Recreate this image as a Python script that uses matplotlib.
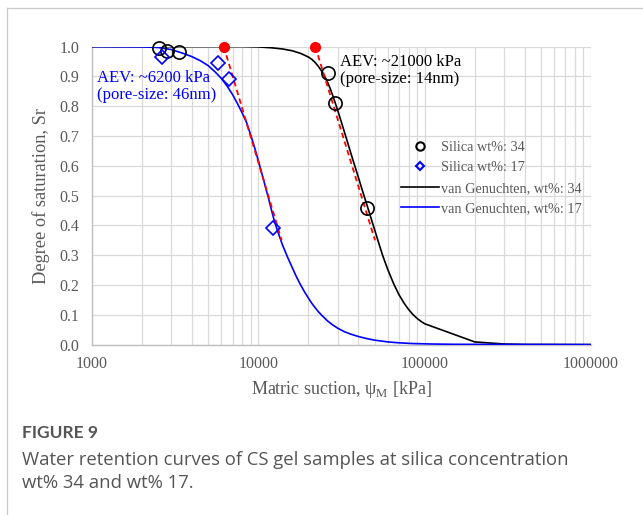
import matplotlib
matplotlib.use("Agg")
import matplotlib.pyplot as plt
from matplotlib.lines import Line2D
from matplotlib.ticker import FixedLocator, LogLocator, NullFormatter
import numpy as np

# measured points
psi_34 = [2530, 2820, 3330, 26300, 28900, 45000]
sr_34 = [0.994, 0.986, 0.983, 0.911, 0.811, 0.458]
psi_17 = [2640, 5720, 6660, 12250]
sr_17 = [0.964, 0.944, 0.890, 0.392]

# van Genuchten fits
psi_vg34 = [1000, 8000, 10000, 12000, 14000, 16000, 18000, 20000, 21000,
            22000, 23000, 24000, 25000, 26000, 27000, 28000, 29000, 30000,
            32000, 34000, 36000, 38000, 40000, 42500, 45000, 47500, 50000,
            53000, 56000, 60000, 65000, 70000, 75000, 80000, 85000, 90000,
            95000, 100000, 200000, 300000, 400000, 1000000]
sr_vg34 = [1.0, 1.0, 0.999, 0.996, 0.992, 0.986, 0.977, 0.965, 0.957,
           0.946, 0.933, 0.918, 0.901, 0.882, 0.860, 0.836, 0.811, 0.786,
           0.736, 0.688, 0.642, 0.600, 0.560, 0.512, 0.468, 0.426, 0.386,
           0.340, 0.298, 0.252, 0.205, 0.168, 0.140, 0.118, 0.101, 0.088,
           0.078, 0.070, 0.009, 0.002, 0.0005, 0.0]
psi_vg17 = [1000, 2000, 2500, 3000, 3500, 4000, 4500, 5000, 5500, 6000,
            6500, 7000, 7500, 8000, 8500, 9000, 9500, 10000, 10500, 11000,
            11500, 12000, 12500, 13000, 14000, 15000, 16000, 17000, 18000,
            19000, 20000, 21000, 22000, 23000, 24000, 26000, 28000, 30000,
            33000, 36000, 40000, 45000, 50000, 60000, 70000, 85000, 110000,
            150000, 1000000]
sr_vg17 = [1.0, 0.999, 0.997, 0.990, 0.978, 0.966, 0.952, 0.936, 0.915,
           0.893, 0.867, 0.839, 0.808, 0.777, 0.745, 0.703, 0.661, 0.617,
           0.574, 0.532, 0.492, 0.451, 0.414, 0.384, 0.333, 0.293, 0.258,
           0.226, 0.199, 0.176, 0.156, 0.138, 0.123, 0.110, 0.099, 0.080,
           0.066, 0.055, 0.043, 0.035, 0.027, 0.020, 0.015, 0.009, 0.006,
           0.0035, 0.002, 0.001, 0.0]

# AEV tangent lines
aev_psi_17 = [6200, 13800]
aev_sr_17 = [1.0, 0.35]
aev_psi_34 = [22000, 50300]
aev_sr_34 = [1.0, 0.35]

xticks = [1000, 10000, 100000, 1000000]
xtick_labels = ["1000", "10000", "100000", "1000000"]
yticks = [0.0, 0.1, 0.2, 0.3, 0.4, 0.5, 0.6, 0.7, 0.8, 0.9, 1.0]

plt.rcParams['font.family'] = ['Liberation Serif', 'DejaVu Serif']
plt.rcParams['mathtext.fontset'] = 'custom'
plt.rcParams['mathtext.rm'] = 'Liberation Serif'

W, H = 643, 515
fig = plt.figure(figsize=(W / 100, H / 100), dpi=100)
ax = fig.add_axes([92 / W, (H - 344.6) / H, 499 / W, 298 / H])

gray_txt = '#595959'
grid_c = '#d9d9d9'

ax.set_xscale('log')
ax.set_xlim(1000, 1000000)
ax.set_ylim(0, 1.0)
ax.xaxis.set_major_locator(FixedLocator(xticks))
ax.set_xticklabels(xtick_labels)
ax.xaxis.set_minor_locator(LogLocator(base=10, subs=np.arange(2, 10)))
ax.xaxis.set_minor_formatter(NullFormatter())
ax.set_yticks(yticks)
ax.set_yticklabels(["%.1f" % v for v in yticks])
ax.grid(True, which='both', axis='x', color=grid_c, lw=0.9)
ax.grid(True, which='major', axis='y', color=grid_c, lw=0.9)
ax.set_axisbelow(True)
ax.tick_params(which='both', length=0, labelsize=11.5, labelcolor=gray_txt)
ax.tick_params(axis='x', pad=8)
ax.tick_params(axis='y', pad=9)
for s in ['top', 'right']:
    ax.spines[s].set_visible(False)
for s in ['left', 'bottom']:
    ax.spines[s].set_color('#bfbfbf')
    ax.spines[s].set_linewidth(1.0)

ax.plot(psi_vg34, sr_vg34, color='black', lw=1.2, zorder=3)
ax.plot(psi_vg17, sr_vg17, color='#0000ff', lw=1.2, zorder=3)

for px, py in [(aev_psi_17, aev_sr_17), (aev_psi_34, aev_sr_34)]:
    ax.plot(px, py, color='#ff0000', lw=1.3, ls=(0, (3, 2)), zorder=4)
    ax.plot(px[0], py[0], 'o', color='#ff0000', ms=7, zorder=5, clip_on=False)

ax.plot(psi_34, sr_34, 'o', mfc='none', mec='black', ms=9.5, mew=1.2,
        zorder=6, clip_on=False)
ax.plot(psi_17, sr_17, 'D', mfc='none', mec='#0000ff', ms=7.5, mew=1.2,
        zorder=6, clip_on=False)

ax.text(1070, 0.866, "AEV: ~6200 kPa\n(pore-size: 46nm)", color='#0000ff',
        fontsize=12, va='center', linespacing=1.1)
ax.text(31000, 0.921, "AEV: ~21000 kPa\n(pore-size: 14nm)", color='black',
        fontsize=12, va='center', linespacing=1.1)

handles = [
    Line2D([], [], ls='none', marker='o', mfc='none', mec='black', ms=6, mew=1.5),
    Line2D([], [], ls='none', marker='D', mfc='none', mec='#0000ff', ms=4.5, mew=1.5),
    Line2D([], [], color='black', lw=1.2),
    Line2D([], [], color='#0000ff', lw=1.2),
]
labels = ["Silica wt%: 34", "Silica wt%: 17",
          "van Genuchten, wt%: 34", "van Genuchten, wt%: 17"]
leg = ax.legend(handles, labels, loc='center left',
                bbox_to_anchor=(0.594, 0.559), frameon=False, fontsize=10.3,
                handlelength=2.65, handletextpad=0.1, labelspacing=0.52,
                numpoints=1)
for t in leg.get_texts():
    t.set_color(gray_txt)

ax.set_ylabel("Degree of saturation, Sr", fontsize=13.2, color=gray_txt,
              labelpad=7)
ax.set_xlabel("Matric suction, ψ$_\\mathrm{M}$ [kPa]", fontsize=13,
              color=gray_txt, labelpad=5)

# card border
fig.add_artist(Line2D([7 / W, 1], [1 - 8 / H, 1 - 8 / H], color='#cccccc',
                      lw=1.0, transform=fig.transFigure))
fig.add_artist(Line2D([7 / W, 7 / W], [0, 1 - 8 / H], color='#cccccc',
                      lw=1.0, transform=fig.transFigure))

# caption
fig.text(22 / W, 1 - 433 / H, "FIGURE 9", family='Lato', weight='bold',
         fontsize=12.5, color='#555555', va='center')
fig.text(22 / W, 1 - 460 / H,
         "Water retention curves of CS gel samples at silica concentration",
         family='Open Sans', fontsize=13.3, color='#555555', va='center')
fig.text(22 / W, 1 - 483 / H, "wt% 34 and wt% 17.", family='Open Sans',
         fontsize=13.3, color='#555555', va='center')

fig.savefig("out.png", dpi=100)
